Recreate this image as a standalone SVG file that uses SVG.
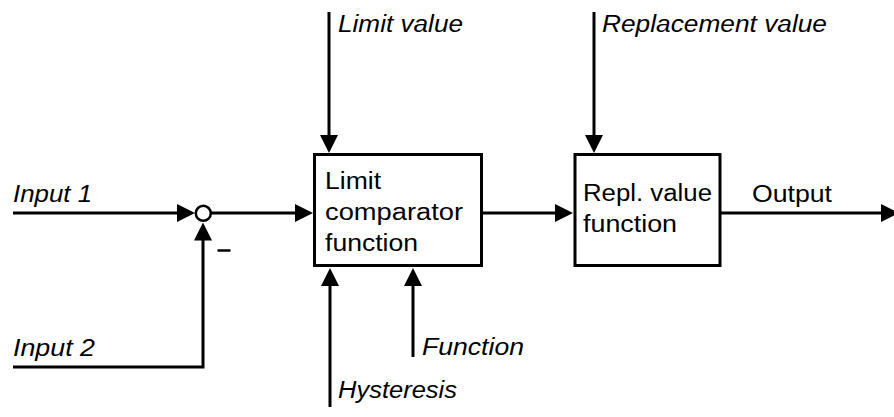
<svg xmlns="http://www.w3.org/2000/svg" width="894" height="417" viewBox="0 0 894 417">
<style>
.ln{stroke:#000;stroke-width:3;fill:none;stroke-linecap:butt}
.box{stroke:#000;stroke-width:3;fill:#fff}
.t{font-family:"Liberation Sans",Arial,Helvetica,sans-serif;font-size:23px;fill:#000}
.i{font-style:italic}
</style>
<defs>
<marker id="ah" markerUnits="userSpaceOnUse" markerWidth="18" markerHeight="18" refX="14" refY="9" orient="auto">
<path d="M0,0 L18,9 L0,18 Z" fill="#000"/>
</marker>
</defs>
<rect width="894" height="417" fill="#fff"/>
<g id="connectors">
<line class="ln" x1="13" y1="213" x2="191" y2="213" marker-end="url(#ah)"/>
<polyline class="ln" points="13,367 203,367 203,226.5" marker-end="url(#ah)"/>
<line class="ln" x1="211" y1="213" x2="309" y2="213" marker-end="url(#ah)"/>
<line class="ln" x1="329" y1="12" x2="329" y2="149" marker-end="url(#ah)"/>
<line class="ln" x1="330" y1="407" x2="330" y2="272" marker-end="url(#ah)"/>
<line class="ln" x1="413" y1="357" x2="413" y2="272" marker-end="url(#ah)"/>
<line class="ln" x1="483" y1="213" x2="569" y2="213" marker-end="url(#ah)"/>
<line class="ln" x1="594" y1="12" x2="594" y2="149" marker-end="url(#ah)"/>
<line class="ln" x1="721" y1="213" x2="895" y2="213" marker-end="url(#ah)"/>
<line x1="217.5" y1="250.5" x2="230.5" y2="250.5" stroke="#000" stroke-width="2.5"/>
</g>
<g id="sum">
<circle cx="203.3" cy="213.3" r="7.5" fill="#fff" stroke="#000" stroke-width="2.5"/>
</g>
<g id="limit-comparator">
<rect class="box" x="314.5" y="154.5" width="167" height="111"/>
<text class="t" x="325" y="189" textLength="56" lengthAdjust="spacingAndGlyphs">Limit</text>
<text class="t" x="325" y="220" textLength="138" lengthAdjust="spacingAndGlyphs">comparator</text>
<text class="t" x="325" y="251" textLength="93" lengthAdjust="spacingAndGlyphs">function</text>
</g>
<g id="repl-value">
<rect class="box" x="575" y="154.5" width="145" height="111"/>
<text class="t" x="583" y="201" textLength="129" lengthAdjust="spacingAndGlyphs">Repl. value</text>
<text class="t" x="583" y="232" textLength="94" lengthAdjust="spacingAndGlyphs">function</text>
</g>
<g id="labels">
<text class="t" x="752" y="202" textLength="80" lengthAdjust="spacingAndGlyphs">Output</text>
<text class="t i" x="13" y="202" textLength="79" lengthAdjust="spacingAndGlyphs">Input 1</text>
<text class="t i" x="13" y="356" textLength="82" lengthAdjust="spacingAndGlyphs">Input 2</text>
<text class="t i" x="338" y="32" textLength="125" lengthAdjust="spacingAndGlyphs">Limit value</text>
<text class="t i" x="602" y="32" textLength="225" lengthAdjust="spacingAndGlyphs">Replacement value</text>
<text class="t i" x="422" y="355" textLength="102" lengthAdjust="spacingAndGlyphs">Function</text>
<text class="t i" x="338" y="398" textLength="119" lengthAdjust="spacingAndGlyphs">Hysteresis</text>
</g>
</svg>
